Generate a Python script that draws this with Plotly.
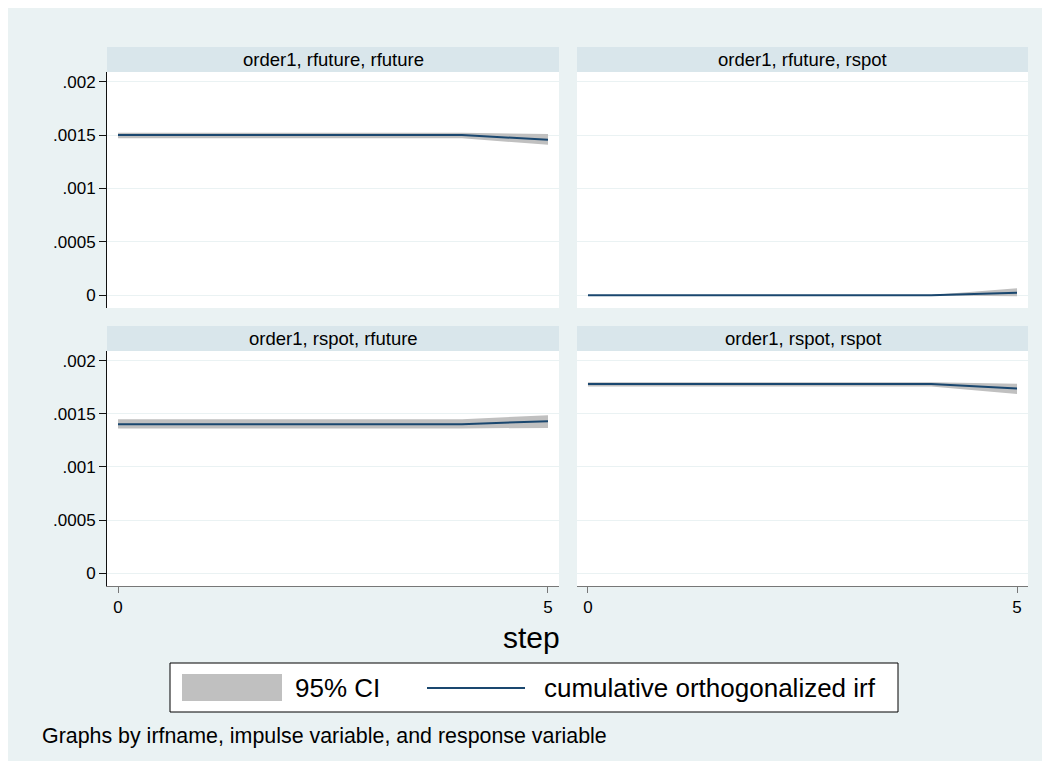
import plotly.graph_objects as go

# ---------------- data ----------------
steps = [0, 1, 2, 3, 4, 5]

panel_titles = ["order1, rfuture, rfuture", "order1, rfuture, rspot",
                "order1, rspot, rfuture", "order1, rspot, rspot"]

# rfuture -> rfuture
irf_ff = [0.00150, 0.00150, 0.00150, 0.00150, 0.00150, 0.001455]
up_ff = [0.00152, 0.00152, 0.00152, 0.00152, 0.00152, 0.00151]
lo_ff = [0.00147, 0.00147, 0.00147, 0.00147, 0.00147, 0.001408]

# rfuture -> rspot
irf_fs = [0.0, 0.0, 0.0, 0.0, 0.0, 0.000022]
up_fs = [0.000002, 0.000002, 0.000002, 0.000002, 0.000002, 0.000066]
lo_fs = [-0.000002, -0.000002, -0.000002, -0.000002, -0.000002, -0.000009]

# rspot -> rfuture
irf_sf = [0.001402, 0.001402, 0.001402, 0.001402, 0.001402, 0.00143]
up_sf = [0.001449, 0.001449, 0.001449, 0.001449, 0.001449, 0.001486]
lo_sf = [0.001362, 0.001362, 0.001362, 0.001362, 0.001362, 0.001367]

# rspot -> rspot
irf_ss = [0.001779, 0.001779, 0.001779, 0.001779, 0.001779, 0.001738]
up_ss = [0.001797, 0.001797, 0.001797, 0.001797, 0.001797, 0.001782]
lo_ss = [0.001757, 0.001757, 0.001757, 0.001757, 0.001757, 0.001685]

y_tickvals = [0, 0.0005, 0.001, 0.0015, 0.002]
y_ticktext = ["0", ".0005", ".001", ".0015", ".002"]
x_tickvals = [0, 5]
x_ticktext = ["0", "5"]

legend_labels = ["95% CI", "cumulative orthogonalized irf"]
xtitle = "step"
note = "Graphs by irfname, impulse variable, and response variable"

# ---------------- styling / layout ----------------
W, H = 1034, 753
OX, OY = 8, 8
FONT = "Liberation Sans, Arial, Helvetica, sans-serif"
BG = "#eaf2f3"
STRIP = "#d9e6eb"
CI_COL = "#c0c0c0"
LINE_COL = "#1a476f"


def px_x(x):
    return (x - OX) / W


def px_y(y):
    return 1 - (y - OY) / H


cols_px = [(107, 559), (577, 1028)]
rows_px = [(72, 308), (351, 586)]
strip_h = 25

series = [(irf_ff, up_ff, lo_ff), (irf_fs, up_fs, lo_fs),
          (irf_sf, up_sf, lo_sf), (irf_ss, up_ss, lo_ss)]

fig = go.Figure()
shapes = []
annotations = []

for i, (irf, up, lo) in enumerate(series):
    r, c = divmod(i, 2)
    ax = "" if i == 0 else str(i + 1)
    xa, ya = "x" + ax, "y" + ax
    fig.add_trace(go.Scatter(
        x=steps + steps[::-1], y=up + lo[::-1], fill="toself",
        fillcolor=CI_COL, line=dict(width=0, color=CI_COL), mode="lines",
        xaxis=xa, yaxis=ya, showlegend=False, hoverinfo="skip"))
    fig.add_trace(go.Scatter(
        x=steps, y=irf, mode="lines", line=dict(color=LINE_COL, width=2),
        xaxis=xa, yaxis=ya, showlegend=False))

    x0, x1 = cols_px[c]
    y0, y1 = rows_px[r]
    dom_x = [px_x(x0), px_x(x1)]
    dom_y = [px_y(y1), px_y(y0)]
    is_left = c == 0
    is_bottom = r == 1
    fig.layout["xaxis" + ax] = dict(
        domain=dom_x, range=[-0.128, 5.128], anchor=ya,
        showgrid=False, zeroline=False,
        showline=is_bottom, linecolor="#777777", linewidth=1,
        ticks="outside" if is_bottom else "", ticklen=6, tickcolor="#777777",
        tickvals=x_tickvals, ticktext=x_ticktext, showticklabels=is_bottom,
        tickfont=dict(size=17, color="black", family=FONT))
    fig.layout["yaxis" + ax] = dict(
        domain=dom_y, range=[-0.00012, 0.00209], anchor=xa,
        showgrid=True, gridcolor=BG, gridwidth=1, zeroline=False,
        showline=is_left, linecolor="#111111", linewidth=1,
        ticks="outside" if is_left else "", ticklen=7, tickcolor="#111111",
        tickvals=y_tickvals, ticktext=y_ticktext, showticklabels=is_left,
        tickfont=dict(size=17, color="black", family=FONT))

    # strip
    shapes.append(dict(type="rect", xref="paper", yref="paper",
                       x0=px_x(x0), x1=px_x(x1), y0=px_y(y0), y1=px_y(y0 - strip_h),
                       fillcolor=STRIP, line=dict(width=0), layer="below"))
    annotations.append(dict(text=panel_titles[i], xref="paper", yref="paper",
                            x=px_x((x0 + x1) / 2), y=px_y(y0 - strip_h / 2),
                            xanchor="center", yanchor="middle", showarrow=False,
                            font=dict(size=18.5, color="black", family=FONT)))

# x title
annotations.append(dict(text=xtitle, xref="paper", yref="paper",
                        x=px_x(531), y=px_y(637), xanchor="center", yanchor="middle",
                        showarrow=False, font=dict(size=30, color="black", family=FONT)))

# legend box (drawn manually)
shapes.append(dict(type="rect", xref="paper", yref="paper",
                   x0=px_x(170), x1=px_x(898), y0=px_y(712), y1=px_y(663),
                   fillcolor="white", line=dict(color="black", width=1)))
shapes.append(dict(type="rect", xref="paper", yref="paper",
                   x0=px_x(182), x1=px_x(282), y0=px_y(701), y1=px_y(674),
                   fillcolor=CI_COL, line=dict(width=0)))
shapes.append(dict(type="line", xref="paper", yref="paper",
                   x0=px_x(427), x1=px_x(525), y0=px_y(688), y1=px_y(688),
                   line=dict(color=LINE_COL, width=2)))
annotations.append(dict(text=legend_labels[0], xref="paper", yref="paper",
                        x=px_x(293), y=px_y(688), xanchor="left", yanchor="middle",
                        showarrow=False, font=dict(size=26, color="black", family=FONT)))
annotations.append(dict(text=legend_labels[1], xref="paper", yref="paper",
                        x=px_x(542), y=px_y(688), xanchor="left", yanchor="middle",
                        showarrow=False, font=dict(size=26, color="black", family=FONT)))

# note
annotations.append(dict(text=note, xref="paper", yref="paper",
                        x=px_x(40), y=px_y(736), xanchor="left", yanchor="middle",
                        showarrow=False, font=dict(size=21.4, color="black", family=FONT)))

fig.update_layout(width=W, height=H, margin=dict(l=0, r=0, t=0, b=0),
                  paper_bgcolor=BG, plot_bgcolor="white",
                  font=dict(family=FONT, color="black"),
                  shapes=shapes, annotations=annotations, showlegend=False)

fig.write_html("out.html")
